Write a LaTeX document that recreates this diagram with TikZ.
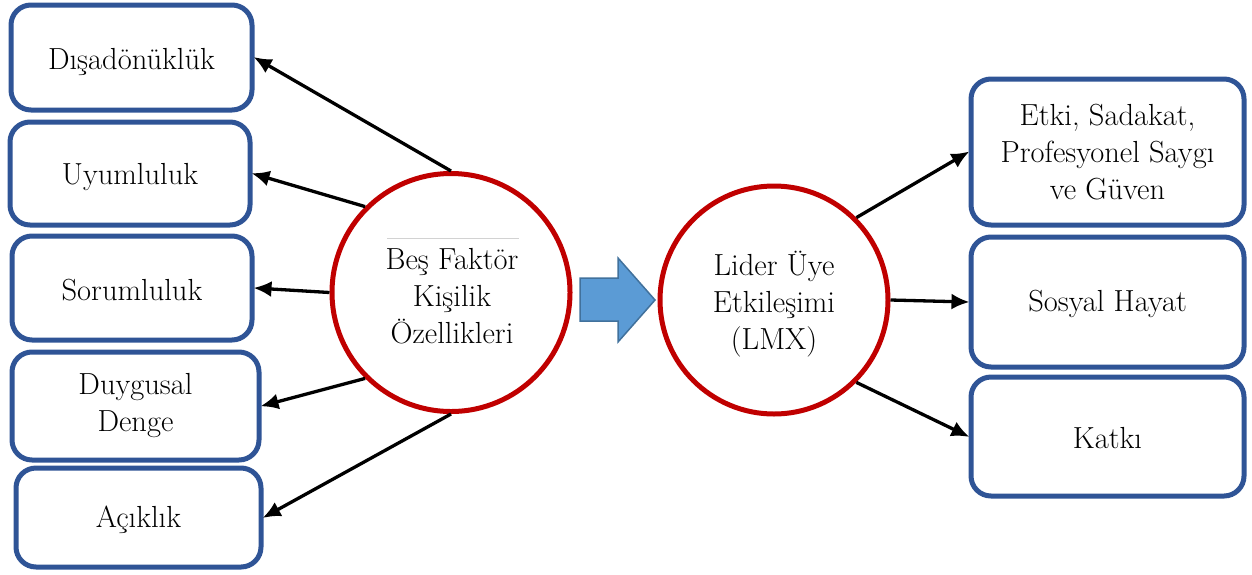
\documentclass[tikz,border=0pt]{standalone}
\usetikzlibrary{arrows.meta}
\definecolor{boxblue}{RGB}{47,84,150}
\definecolor{ringred}{RGB}{192,0,0}
\definecolor{arrowfill}{RGB}{91,155,213}
\definecolor{arrowdraw}{RGB}{65,113,156}
\newcommand{\lowr}[2]{\raisebox{-#1}[\height][\depth]{#2}}
\tikzset{
  txt/.style={align=center, font=\fontsize{30.5}{37}\selectfont},
  box/.style={txt, draw=boxblue, line width=5pt, rounded corners=20pt, fill=white, inner sep=0pt},
  ring/.style={draw=ringred, line width=5pt, circle, fill=white, inner sep=0pt},
  conn/.style={draw=black, line width=3.3pt, -{Latex[length=18pt,width=16pt]}, shorten >=-1pt},
  bigarrow/.style={fill=arrowfill, draw=arrowdraw, line width=1.5pt, line join=miter}
}
\begin{document}
\begin{tikzpicture}[x=1pt,y=-1pt]
\useasboundingbox (0,0) rectangle (1252,574);
% left boxes
\node[box, minimum width=241pt, minimum height=105pt] (b1) at (131.5,57.5) {\lowr{4pt}{Dışadönüklük}};
\node[box, minimum width=240pt, minimum height=103pt] (b2) at (130,173.5) {\lowr{4pt}{Uyumluluk}};
\node[box, minimum width=240pt, minimum height=104pt] (b3) at (132,288) {\lowr{2pt}{Sorumluluk}};
\node[box, minimum width=247pt, minimum height=108pt] (b4) at (135.5,406) {Duygusal\\Denge};
\node[box, minimum width=245pt, minimum height=99pt] (b5) at (138.5,517.5) {\lowr{2pt}{Açıklık}};
% right boxes
\node[box, minimum width=273pt, minimum height=146pt] (r1) at (1107.5,152) {Etki, Sadakat,\\Profesyonel Saygı\\ve Güven};
\node[box, minimum width=273pt, minimum height=130pt] (r2) at (1107.5,302) {\lowr{2pt}{Sosyal Hayat}};
\node[box, minimum width=273pt, minimum height=119pt] (r3) at (1107.5,436.5) {\lowr{2pt}{Katkı}};
% circles
\node[ring, minimum size=238pt] (c1) at (451,292.5) {};
\node[ring, minimum size=228pt] (c2) at (774,300) {};
\draw[gray!35, line width=0.8pt] (387,238) -- (519,238);
\node[txt] (t1) at (452,296) {Beş Faktör\\Kişilik\\Özellikleri};
\node[txt] (t2) at (774,304) {Lider Üye\\Etkileşimi\\(LMX)};
% block arrow
\draw[bigarrow] (580,278) -- (618,278) -- (618,258) -- (655,300) -- (618,342) -- (618,321) -- (580,321) -- cycle;
% connectors
\draw[conn] (c1.90) -- (b1.east);
\draw[conn] (c1.135) -- (b2.east);
\draw[conn] (c1.180) -- (b3.east);
\draw[conn] (c1.225) -- (b4.east);
\draw[conn] (c1.270) -- (b5.east);
\draw[conn] (c2.45) -- (r1.west);
\draw[conn] (c2.0) -- (r2.west);
\draw[conn] (c2.-45) -- (r3.west);
\end{tikzpicture}
\end{document}
